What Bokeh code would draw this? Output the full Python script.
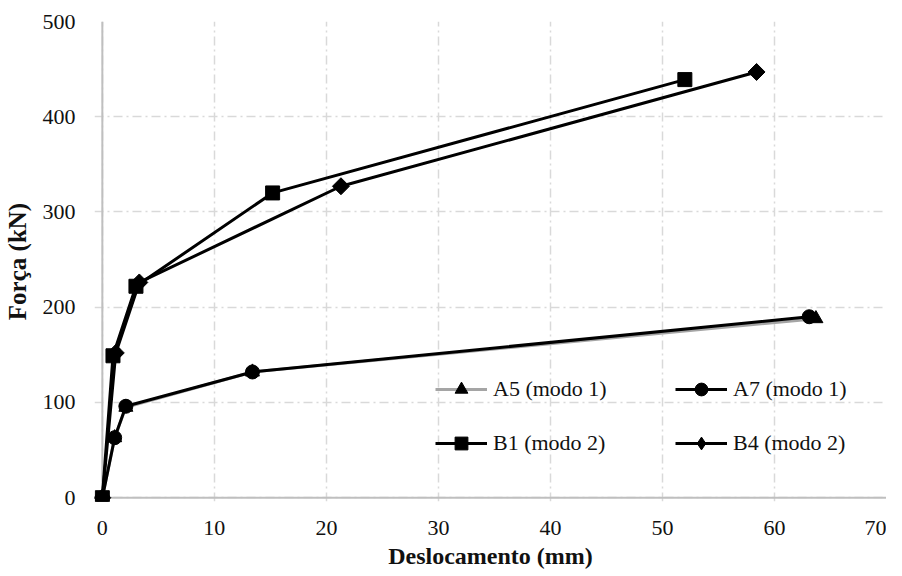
import math
from bokeh.plotting import figure
from bokeh.models import Range1d, FixedTicker, Legend, LegendItem, Span
from bokeh.embed import file_html
from bokeh.resources import INLINE

# ---- data ----
a5_x = [0, 1.1, 2.1, 13.4, 63.7]
a5_y = [0, 63, 95, 132, 188]
a7_x = [0, 1.1, 2.1, 13.4, 63.1]
a7_y = [0, 63, 96, 132, 190]
b1_x = [0, 0.95, 3.0, 15.2, 52.0]
b1_y = [0, 149, 222, 320, 439]
b4_x = [0, 1.2, 3.3, 21.3, 58.4]
b4_y = [0, 152, 226, 327, 447]

x_ticks = [0, 10, 20, 30, 40, 50, 60, 70]
y_ticks = [0, 100, 200, 300, 400, 500]

labels = ["A5 (modo 1)", "A7 (modo 1)", "B1 (modo 2)", "B4 (modo 2)"]

FONT = "Liberation Serif"

p = figure(frame_width=792, frame_height=480, output_backend="svg", toolbar_location=None,
           x_range=Range1d(-0.7, 70), y_range=Range1d(-4, 500),
           min_border_left=84, min_border_right=0, min_border_top=21, min_border_bottom=0)
p.outline_line_color = None
p.background_fill_color = "white"

for ax in (p.xaxis[0], p.yaxis[0]):
    ax.axis_line_color = None
    ax.major_tick_line_color = None
    ax.minor_tick_line_color = None
    ax.major_label_text_font = FONT
    ax.major_label_text_font_size = "22px"
    ax.major_label_text_color = "#111111"
    ax.axis_label_text_font = FONT
    ax.axis_label_text_font_style = "bold"
    ax.axis_label_text_color = "#111111"

p.xaxis[0].ticker = FixedTicker(ticks=x_ticks)
p.yaxis[0].ticker = FixedTicker(ticks=y_ticks)
p.xaxis[0].axis_label = "Deslocamento (mm)"
p.yaxis[0].axis_label = "Força (kN)"
p.xaxis[0].axis_label_text_font_size = "24px"
p.yaxis[0].axis_label_text_font_size = "25px"
p.xaxis[0].major_label_standoff = 13
p.xaxis[0].axis_label_standoff = 5
p.yaxis[0].major_label_standoff = 13
p.yaxis[0].axis_label_standoff = 9

for g in (p.xgrid[0], p.ygrid[0]):
    g.grid_line_color = "#d9d9d9"
    g.grid_line_width = 1.5
    g.grid_line_dash = "9 4 2 4"

p.add_layout(Span(location=0, dimension="height", line_color="#bfbfbf", line_width=2, level="underlay"))
p.add_layout(Span(location=0, dimension="width", line_color="#bfbfbf", line_width=2, level="underlay"))

LW = 3
l_a5 = p.line(a5_x, a5_y, line_color="#a5a5a5", line_width=LW)
m_a5 = p.scatter(a5_x, a5_y, marker="triangle", size=14, fill_color="black", line_color="black")
l_a7 = p.line(a7_x, a7_y, line_color="black", line_width=LW)
m_a7 = p.scatter(a7_x, a7_y, marker="circle", size=14, fill_color="black", line_color="black")
l_b4 = p.line(b4_x, b4_y, line_color="black", line_width=LW)
m_b4 = p.scatter(b4_x, b4_y, marker="square", angle=math.pi / 4, size=12,
                 fill_color="black", line_color="black")
l_b1 = p.line(b1_x, b1_y, line_color="black", line_width=LW)
m_b1 = p.scatter(b1_x, b1_y, marker="square", size=14, fill_color="black", line_color="black")

# legend-only diamond (single point placed outside the visible ranges)
d_b4 = p.scatter([-50], [-500], marker="diamond", size=12, fill_color="black", line_color="black")

legend = Legend(items=[
    LegendItem(label=labels[0], renderers=[l_a5, m_a5]),
    LegendItem(label=labels[1], renderers=[l_a7, m_a7]),
    LegendItem(label=labels[2], renderers=[l_b1, m_b1]),
    LegendItem(label=labels[3], renderers=[l_b4, d_b4]),
], location=(341, 42), orientation="horizontal", ncols=2)
legend.label_text_font = FONT
legend.label_text_font_size = "22px"
legend.label_text_color = "#111111"
legend.glyph_width = 52
legend.glyph_height = 32
legend.label_standoff = 6
legend.label_width = 160
legend.spacing = 22
legend.padding = 0
legend.margin = 0
legend.border_line_color = None
legend.background_fill_alpha = 0
p.add_layout(legend)

open("out.html", "w").write(file_html(p, INLINE))
